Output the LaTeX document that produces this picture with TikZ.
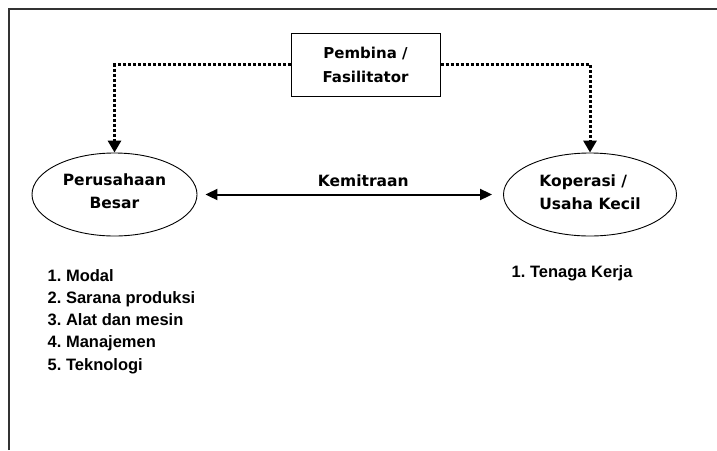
\documentclass[tikz,border=0pt]{standalone}
\usepackage{fontspec}
\setmainfont{Liberation Sans}
\newfontfamily\verd{DejaVu Sans}
\usetikzlibrary{arrows.meta,shapes.geometric,positioning}
\frenchspacing
\tikzstyle{partner}=[ellipse,draw,line width=0.9pt,inner sep=0pt,minimum width=168pt,minimum height=83pt]
\tikzstyle{vtext}=[font=\verd\bfseries\fontsize{15.5}{23.5}\selectfont]
\tikzstyle{guide}=[line width=3pt,dash pattern=on 3pt off 2pt,line join=miter,-{Triangle[length=12pt,width=13pt]}]
\tikzstyle{item}=[anchor=base west,inner sep=0pt,font=\bfseries\fontsize{16.5}{20}\selectfont]

\begin{document}
\begin{tikzpicture}[x=1pt,y=-1pt]
\useasboundingbox (0,0) rectangle (717,450);
\draw[line width=1.6pt,black!80] (9,450) -- (9,9) -- (717,9);
\node[draw,line width=1pt,minimum width=149pt,minimum height=63pt,align=center,font=\verd\bfseries\fontsize{15}{24}\selectfont] (P) at (365.5,64.5) {Pembina /\\Fasilitator};
\node[partner,minimum width=165pt,label={[vtext,align=center,yshift=3.5pt]center:{Perusahaan\\Besar}}] (B) at (114.5,194.5) {};
\node[partner,minimum width=173pt,label={[vtext,align=left,yshift=2.5pt]center:{Koperasi /\\Usaha Kecil}}] (K) at (590,194.5) {};
\draw[guide] (P.west) -| (B.north);
\draw[guide] (P.east) -| (K.north);
\path[{Triangle[length=12pt,width=11pt]}-{Triangle[length=12pt,width=11pt]},line width=2pt]
(B) edge[shorten <=8pt,shorten >=11pt] node[above,yshift=3pt,xshift=13pt,vtext]{Kemitraan} (K);
% kontribusi masing-masing pihak
\foreach \t [count=\i] in {Modal, Sarana produksi, Alat dan mesin, Manajemen, Teknologi}
  \node[item] (m\i) at (47.5,258.7+22.3*\i) {\i.\ \t};
\node[item] (tk) at (511.5,277.3) {1.\ Tenaga Kerja};
\end{tikzpicture}
\end{document}
